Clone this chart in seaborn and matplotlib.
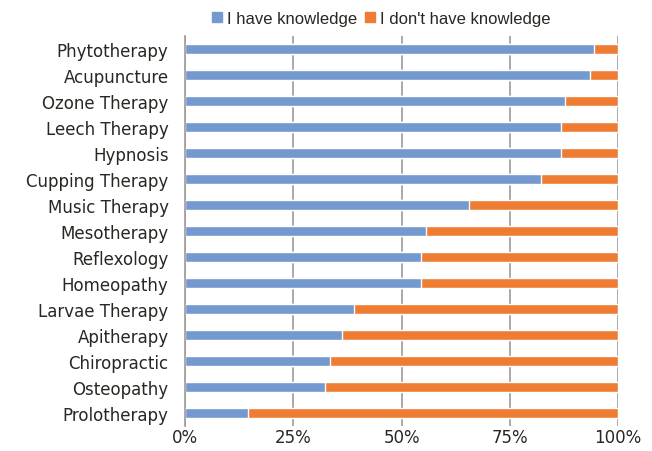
import matplotlib
matplotlib.use("Agg")
import matplotlib.pyplot as plt
import pandas as pd
import seaborn as sns
from matplotlib.patches import Patch
from matplotlib.ticker import FuncFormatter

therapies = ["Phytotherapy", "Acupuncture", "Ozone Therapy", "Leech Therapy", "Hypnosis",
             "Cupping Therapy", "Music Therapy", "Mesotherapy", "Reflexology", "Homeopathy",
             "Larvae Therapy", "Apitherapy", "Chiropractic", "Osteopathy", "Prolotherapy"]
have_knowledge = [94.5, 93.4, 87.8, 86.7, 86.7, 82.3, 65.6, 55.6, 54.5, 54.5,
                  38.9, 36.3, 33.5, 32.4, 14.5]
no_knowledge = [5.5, 6.6, 12.2, 13.3, 13.3, 17.7, 34.4, 44.4, 45.5, 45.5,
                61.1, 63.7, 66.5, 67.6, 85.5]

BLUE = "#7499cf"
ORANGE = "#ee7d33"
TEXT = "#2a2622"

df = pd.DataFrame({"therapy": therapies, "have": have_knowledge, "dont": no_knowledge})
df["total"] = df["have"] + df["dont"]

sns.set_style("white")
fig = plt.figure(figsize=(6.52, 4.52), dpi=100)
ax = fig.add_axes([0.284, 0.056, 0.664, 0.862])

# orange = full stack, blue drawn on top of it
sns.barplot(data=df, y="therapy", x="total", color=ORANGE, width=0.4,
            saturation=1, orient="h", ax=ax)
sns.barplot(data=df, y="therapy", x="have", color=BLUE, width=0.4,
            saturation=1, orient="h", ax=ax)

ax.set_xlim(0, 100)
ax.set_xticks([0, 25, 50, 75, 100])
ax.xaxis.set_major_formatter(FuncFormatter(lambda v, p: f"{int(v)}%"))
ax.grid(axis="x", color="#a09a98", linewidth=1.2)
ax.set_axisbelow(True)
for s in ["top", "right", "bottom"]:
    ax.spines[s].set_visible(False)
ax.spines["left"].set_color("#a09a98")
ax.spines["left"].set_linewidth(1.2)
ax.set_xlabel("")
ax.set_ylabel("")
ax.tick_params(axis="y", labelsize=12, colors=TEXT, length=0, pad=12)
ax.tick_params(axis="x", labelsize=12, colors=TEXT, length=0, pad=2)

handles = [Patch(color=BLUE, label="I have knowledge"),
           Patch(color=ORANGE, label="I don't have knowledge")]
fig.legend(handles=handles, loc="center", bbox_to_anchor=(0.585, 0.957), ncol=2,
           frameon=False, prop={"family": "Liberation Sans", "size": 12},
           labelcolor=TEXT, handlelength=0.6, handleheight=0.6,
           handletextpad=0.3, columnspacing=0.5)

fig.savefig("out.png", dpi=100)
